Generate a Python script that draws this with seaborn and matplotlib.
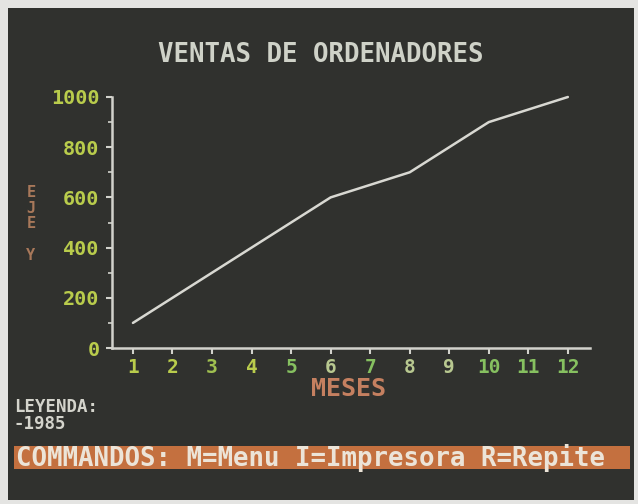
import matplotlib
matplotlib.use("Agg")
import matplotlib.pyplot as plt
from matplotlib.patches import Rectangle
from matplotlib.ticker import MultipleLocator
import seaborn as sns
import pandas as pd

# ---- data ----
meses = [1, 2, 3, 4, 5, 6, 7, 8, 9, 10, 11, 12]
ventas = [100, 200, 300, 400, 500, 600, 650, 700, 800, 900, 950, 1000]
y_ticks = [0, 200, 400, 600, 800, 1000]
titulo = "VENTAS DE ORDENADORES"
eje_x = "MESES"
eje_y = "E\nJ\nE\n\nY"
leyenda = "LEYENDA:\n-1985"
comandos = "COMMANDOS: M=Menu I=Impresora R=Repite"

# ---- colours ----
SCREEN = "#30312e"
FRAME = "#e4e4e2"
AXIS = "#d2d2cc"
LINE = "#d8d8d2"
YELLOW = "#b9cc4c"
GREEN = "#86c060"
PALE = "#b8c890"
ORANGE_TXT = "#c58060"
BAR = "#c4703f"
xtick_colors = [YELLOW, YELLOW, "#a0c050", YELLOW, GREEN, PALE, GREEN, PALE, PALE,
                GREEN, GREEN, GREEN]

sns.set_style("dark", {"axes.facecolor": SCREEN, "figure.facecolor": FRAME})
plt.rcParams["font.family"] = ["DejaVu Sans Mono", "DejaVu Sans"]
plt.rcParams["font.weight"] = "bold"

fig = plt.figure(figsize=(6.38, 5.04), dpi=100)
W, H = 638, 504

# screen background
fig.patches.append(Rectangle((8 / W, 4 / H), (634 - 8) / W, (496 - 4) / H,
                             transform=fig.transFigure, facecolor=SCREEN,
                             edgecolor="none", zorder=-5))

ax = fig.add_axes([112 / W, 1 - 348 / H, (590 - 112) / W, (348 - 97) / H])
ax.set_facecolor("none")
ax.set_zorder(2)

df = pd.DataFrame({"mes": meses, "ventas": ventas})
sns.lineplot(data=df, x="mes", y="ventas", ax=ax, color=LINE, linewidth=1.8)
for ln in ax.lines:
    ln.set_clip_on(False)

ax.set_xlim(0.47, 12.56)
ax.set_ylim(0, 1000)
ax.set_xticks(meses)
ax.set_xticklabels([str(m) for m in meses])
ax.set_yticks(y_ticks)
ax.set_yticklabels([str(v) for v in y_ticks])
ax.yaxis.set_minor_locator(MultipleLocator(100))
ax.grid(False)

for s in ["top", "right"]:
    ax.spines[s].set_visible(False)
for s in ["left", "bottom"]:
    ax.spines[s].set_visible(True)
    ax.spines[s].set_color(AXIS)
    ax.spines[s].set_linewidth(1.8)

ax.tick_params(axis="y", which="major", direction="out", length=4, width=1.5,
               color=AXIS, labelcolor=YELLOW, labelsize=14.5, pad=5, left=True)
ax.tick_params(axis="y", which="minor", direction="out", length=3, width=1.2,
               color=AXIS, left=True)
ax.tick_params(axis="x", direction="out", length=4, width=1.5, color=AXIS,
               labelsize=14, pad=3, bottom=True)
for lbl, c in zip(ax.get_xticklabels(), xtick_colors):
    lbl.set_color(c)
    lbl.set_fontweight("bold")
for lbl in ax.get_yticklabels():
    lbl.set_fontweight("bold")

ax.set_xlabel("")
ax.set_ylabel("")

# texts
fig.text(321 / W, 1 - 55 / H, titulo, ha="center", va="center", color="#cfd2c8",
         fontsize=18.5, fontweight="bold")
fig.text(349 / W, 1 - 389 / H, eje_x, ha="center", va="center", color=ORANGE_TXT,
         fontsize=18, fontweight="bold")
fig.text(31 / W, 1 - 224 / H, eje_y, ha="center", va="center", color="#a8785a",
         fontsize=11, fontweight="bold", linespacing=1.05)
fig.text(14 / W, 1 - 398 / H, leyenda, ha="left", va="top", color="#d4d4cc",
         fontsize=12.5, fontweight="bold", linespacing=0.95)

# command bar
fig.patches.append(Rectangle((14 / W, 1 - 469 / H), (630 - 14) / W, 23 / H,
                             transform=fig.transFigure, facecolor=BAR,
                             edgecolor="none", zorder=1))
fig.text(16 / W, 1 - 457.5 / H, comandos, ha="left", va="center", color="#ece4d8",
         fontsize=18.5, fontweight="bold", zorder=2)

fig.savefig("out.png", dpi=100, facecolor=FRAME)
